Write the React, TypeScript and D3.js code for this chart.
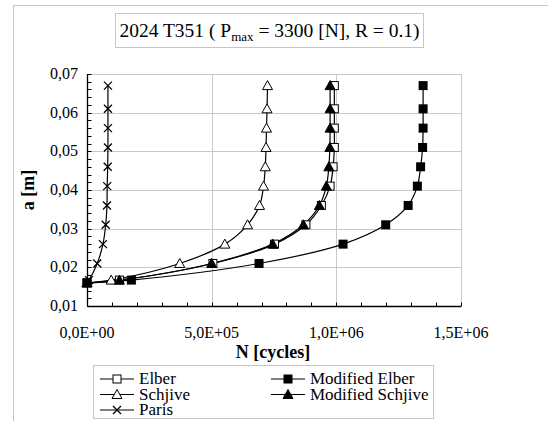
import React from 'react';
import * as d3 from 'd3';

// crack length [m] at each recorded step (same for every model)
const crackLength = [0.016, 0.0167, 0.021, 0.026, 0.031, 0.036, 0.041, 0.046, 0.051, 0.056, 0.061, 0.067];

// cycles N for each model
const elber = [0, 130000, 505000, 752000, 878000, 940000, 975000, 987000, 992000, 992000, 992000, 992000];
const modifiedElber = [0, 178000, 690000, 1027000, 1198000, 1288000, 1325000, 1338000, 1346000, 1348000, 1348000, 1348000];
const schjive = [0, 97000, 372000, 553000, 644000, 692000, 708000, 715000, 718000, 720000, 722000, 724000];
const modifiedSchjive = [0, 130000, 500000, 745000, 868000, 932000, 960000, 970000, 974000, 975000, 975000, 975000];
const paris = [0, 8000, 41000, 64000, 75000, 80000, 81000, 83000, 84000, 84000, 84000, 84000];

const seriesNames = ['Elber', 'Modified Elber', 'Schjive', 'Modified Schjive', 'Paris'];
const seriesMarkers = ['squareOpen', 'square', 'triangleOpen', 'triangle', 'cross'];

const yTicks = [0.01, 0.02, 0.03, 0.04, 0.05, 0.06, 0.07];
const yTickLabels = ['0,01', '0,02', '0,03', '0,04', '0,05', '0,06', '0,07'];
const xTicks = [0, 500000, 1000000, 1500000];
const xTickLabels = ['0,0E+00', '5,0E+05', '1,0E+06', '1,5E+06'];

const FONT = '"Liberation Serif", "Times New Roman", serif';
const BORDER = '#c6c6c6';
const GRID = '#c8c8c8';

const x = d3.scaleLinear().domain([0, 1500000]).range([87, 461]);
const y = d3.scaleLinear().domain([0.01, 0.07]).range([306, 74]);

const Marker = ({ type, cx, cy }: { type: string, cx: number, cy: number }) => {
    if (type === 'squareOpen') {
        return <rect x={cx - 4} y={cy - 4} width={8} height={8} fill="#fff" stroke="#000" strokeWidth={1} />;
    }
    if (type === 'square') {
        return <rect x={cx - 4.5} y={cy - 4.5} width={9} height={9} fill="#000" />;
    }
    if (type === 'triangleOpen' || type === 'triangle') {
        return <path d={`M${cx},${cy - 5}L${cx + 5},${cy + 4}L${cx - 5},${cy + 4}Z`}
                     fill={type === 'triangle' ? '#000' : '#fff'} stroke="#000" strokeWidth={1} />;
    }
    return <path d={`M${cx - 4},${cy - 4}L${cx + 4},${cy + 4}M${cx + 4},${cy - 4}L${cx - 4},${cy + 4}`}
                 fill="none" stroke="#000" strokeWidth={1.3} />;
};

const App = () => {
    const allSeries = [elber, modifiedElber, schjive, modifiedSchjive, paris];
    const line = d3.line<number>()
        .x(d => x(d))
        .y((d, i) => y(crackLength[i]))
        .curve(d3.curveCatmullRom.alpha(0.5));

    const x0 = Math.round(x(0)) + 0.5;
    const yb = Math.round(y(0.01)) + 0.5;
    const minorY = d3.range(0.01, 0.0701, 0.002);
    const minorX = d3.range(0, 1500001, 100000);
    const legendPos = [[100, 379], [271, 379], [100, 394.5], [271, 394.5], [100, 410]];
    const txt = { fontFamily: FONT };

    return (
        <svg width={548} height={421} style={{ position: 'absolute', left: 0, top: 0, display: 'block' }}>
            <rect width={548} height={421} fill="#fff" />
            {/* chart area border runs off the picture */}
            <rect x={13.5} y={5.5} width={600} height={500} fill="none" stroke={BORDER} />

            {/* title */}
            <rect x={115.5} y={13.5} width={308} height={34} fill="#fff" stroke={BORDER} />
            <text x={269.5} y={36.5} textAnchor="middle" style={{ ...txt, fontSize: '19.5px' }}>
                <tspan>2024 T351 ( P</tspan>
                <tspan dy={4} style={{ fontSize: '13px' }}>max</tspan>
                <tspan dy={-4}> = 3300 [N], R = 0.1)</tspan>
            </text>

            {/* grid */}
            <g stroke={GRID} strokeWidth={1}>
                {yTicks.slice(1).map(t => (
                    <line key={t} x1={x(0)} x2={x(1500000)} y1={Math.round(y(t)) + 0.5} y2={Math.round(y(t)) + 0.5} />
                ))}
                {xTicks.slice(1).map(t => (
                    <line key={t} y1={y(0.01)} y2={y(0.07)} x1={Math.round(x(t)) + 0.5} x2={Math.round(x(t)) + 0.5} />
                ))}
            </g>

            {/* axes */}
            <g stroke="#000">
                <line x1={x0} x2={x0} y1={y(0.07)} y2={yb} strokeWidth={1.3} />
                <line x1={x0} x2={x(1500000)} y1={yb} y2={yb} strokeWidth={1.3} />
                {minorY.map(t => {
                    const yy = Math.round(y(t)) + 0.5;
                    return <line key={t} x1={x0} x2={x0 + 4} y1={yy} y2={yy} />;
                })}
                {minorX.map(t => {
                    const xx = Math.round(x(t)) + 0.5;
                    return <line key={t} x1={xx} x2={xx} y1={yb} y2={yb - 4} />;
                })}
            </g>

            {/* tick labels */}
            {yTicks.map((t, i) => (
                <text key={t} x={78} y={y(t) + 5} textAnchor="end" style={{ ...txt, fontSize: '16px' }}>{yTickLabels[i]}</text>
            ))}
            {xTicks.map((t, i) => (
                <text key={t} x={x(t)} y={338} textAnchor="middle" style={{ ...txt, fontSize: '16px' }}>{xTickLabels[i]}</text>
            ))}

            {/* axis titles */}
            <text transform="translate(34,190) rotate(-90)" textAnchor="middle"
                  style={{ ...txt, fontSize: '18px', fontWeight: 'bold' }}>a [m]</text>
            <text x={273} y={358} textAnchor="middle"
                  style={{ ...txt, fontSize: '18px', fontWeight: 'bold' }}>N [cycles]</text>

            {/* series */}
            {allSeries.map((values, s) => (
                <path key={'l' + s} d={line(values) || ''} fill="none" stroke="#000" strokeWidth={1.2} />
            ))}
            {allSeries.map((values, s) => values.map((v, i) => (
                <Marker key={'m' + s + '-' + i} type={seriesMarkers[s]} cx={x(v)} cy={y(crackLength[i])} />
            )))}

            {/* legend */}
            <rect x={93.5} y={365.5} width={340} height={53} fill="#fff" stroke={BORDER} />
            {seriesNames.map((name, s) => {
                const [lx, ly] = legendPos[s];
                return (
                    <g key={name}>
                        <line x1={lx} x2={lx + 34} y1={ly} y2={ly} stroke="#000" strokeWidth={1.2} />
                        <Marker type={seriesMarkers[s]} cx={lx + 17} cy={ly} />
                        <text x={lx + 39} y={ly + 5} style={{ ...txt, fontSize: '17px' }}>{name}</text>
                    </g>
                );
            })}
        </svg>
    );
};

export default App;
